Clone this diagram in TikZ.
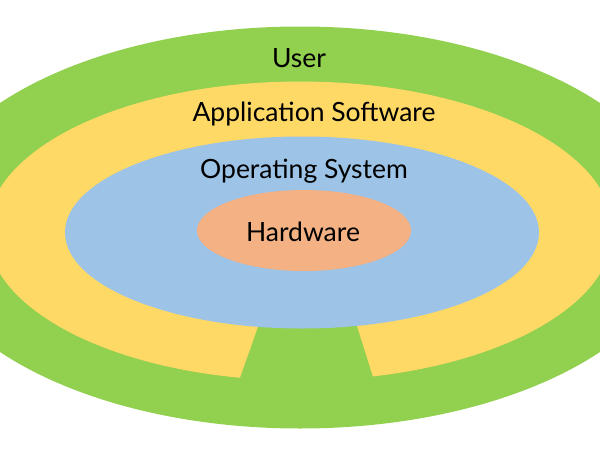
\documentclass[tikz,border=0pt]{standalone}
\usepackage{fontspec}
\setmainfont{Lato}
\definecolor{usergreen}{HTML}{92D050}
\definecolor{appyellow}{HTML}{FFD966}
\definecolor{osblue}{HTML}{9DC3E6}
\definecolor{hworange}{HTML}{F4B183}
\tikzset{
  layerlabel/.style={font=\fontsize{26.5}{30}\selectfont, text=black, inner sep=0pt, anchor=center}
}
\begin{document}
\begin{tikzpicture}[x=1pt,y=-1pt]
\useasboundingbox (0,0) rectangle (600,450);
\begin{scope}
\clip (0,0) rectangle (600,450);
\fill[usergreen] (300,227.5) ellipse [x radius=382, y radius=201];
\fill[appyellow] (300,231) ellipse [x radius=313, y radius=149.5];
\fill[usergreen] (260.5,320) -- (234,395) -- (378.6,395) -- (355,320) -- cycle;
\fill[osblue] (302,232.5) ellipse [x radius=237, y radius=96];
\fill[hworange] (304,230.5) ellipse [x radius=107, y radius=40.5];
\end{scope}
\node[layerlabel] (user) at (299,58) {User};
\node[layerlabel] (app) at (314,114) {Application Software};
\node[layerlabel] (os) at (304,171) {Operating System};
\node[layerlabel] (hw) at (303,232) {Hardware};
\end{tikzpicture}
\end{document}
